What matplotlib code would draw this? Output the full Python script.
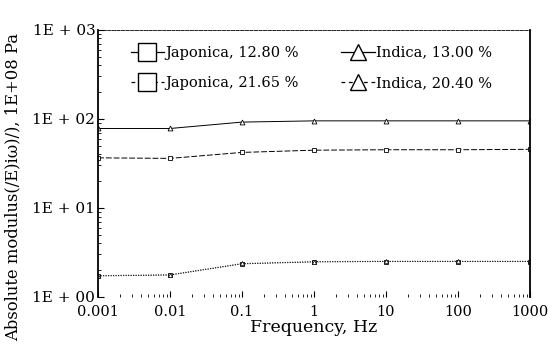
import numpy as np
import matplotlib
matplotlib.use("Agg")
import matplotlib.pyplot as plt
from matplotlib.ticker import FixedLocator, LogLocator, NullFormatter
from matplotlib.lines import Line2D

# data
freq = [0.001, 0.01, 0.1, 1, 10, 100, 1000]
freq_labels = ['0.001', '0.01', '0.1', '1', '10', '100', '1000']
jap_128 = [36.5, 36.0, 42.0, 44.5, 45.0, 45.0, 45.5]
ind_130 = [78.0, 78.0, 92.0, 95.0, 95.0, 95.0, 95.0]
jap_2165 = [1.72, 1.76, 2.35, 2.47, 2.5, 2.5, 2.5]
ind_2040 = [1.74, 1.78, 2.38, 2.5, 2.52, 2.52, 2.52]
ytick_vals = [1, 10, 100, 1000]
ytick_labels = ['1E + 00', '1E + 01', '1E + 02', '1E + 03']

plt.rcParams['font.family'] = ['DejaVu Serif']

fig = plt.figure(figsize=(5.48, 3.51), dpi=100)
ax = fig.add_axes([0.179, 0.154, 0.788, 0.761])

ax.plot(freq, jap_128, color='black', lw=0.7, ls=(0, (6, 2)), marker='s',
        ms=3.5, mfc='white', mec='black', mew=0.6)
ax.plot(freq, ind_130, color='black', lw=0.7, ls='-', marker='^',
        ms=3.5, mfc='white', mec='black', mew=0.6)
ax.plot(freq, jap_2165, color='black', lw=0.6, ls=(0, (1.5, 1.5)), marker='s',
        ms=3.5, mfc='white', mec='black', mew=0.6)
ax.plot(freq, ind_2040, color='black', lw=0.6, ls=(0, (1, 2)), marker='^',
        ms=3.0, mfc='white', mec='black', mew=0.5)

ax.set_xscale('log')
ax.set_yscale('log')
ax.set_xlim(0.001, 1000)
ax.set_ylim(1, 1000)
ax.xaxis.set_major_locator(FixedLocator(freq))
ax.set_xticklabels(freq_labels, fontsize=10.5)
ax.xaxis.set_minor_locator(LogLocator(base=10, subs=np.arange(2, 10), numticks=20))
ax.xaxis.set_minor_formatter(NullFormatter())
ax.yaxis.set_major_locator(FixedLocator(ytick_vals))
ax.set_yticklabels(ytick_labels, fontsize=11)
ax.yaxis.set_minor_locator(LogLocator(base=10, subs=np.arange(2, 10), numticks=20))
ax.yaxis.set_minor_formatter(NullFormatter())
ax.tick_params(which='both', direction='in', top=False, right=False)
ax.tick_params(which='major', length=4, width=0.8)
ax.tick_params(axis='x', which='major', pad=6)
ax.tick_params(axis='y', which='major', pad=2)
ax.tick_params(which='minor', length=2.5, width=0.6)

ax.spines['left'].set_linewidth(1.3)
ax.spines['right'].set_linewidth(1.3)
ax.spines['top'].set_linestyle((0, (4, 1.5)))
ax.spines['top'].set_linewidth(0.6)
ax.spines['bottom'].set_visible(False)

ax.set_xlabel('Frequency, Hz', fontsize=12.5, labelpad=0)
ax.set_ylabel('Absolute modulus(/E)iω)/), 1E+08 Pa', fontsize=11.8)
ax.yaxis.set_label_coords(-0.178, 0.41)

# legend with large hollow markers
h1 = Line2D([], [], color='black', lw=0.9, ls='-', marker='s', ms=13, mfc='white', mec='black')
h2 = Line2D([], [], color='black', lw=0.9, ls='-', marker='^', ms=11, mfc='white', mec='black')
h3 = Line2D([], [], color='black', lw=0.9, ls=(0, (3, 3)), marker='s', ms=13, mfc='white', mec='black')
h4 = Line2D([], [], color='black', lw=0.9, ls=(0, (3, 3)), marker='^', ms=11, mfc='white', mec='black')
ax.legend([h1, h3, h2, h4],
          ['Japonica, 12.80 %', 'Japonica, 21.65 %', 'Indica, 13.00 %', 'Indica, 20.40 %'],
          ncol=2, loc='upper left', bbox_to_anchor=(0.045, 0.99), frameon=False,
          fontsize=10.5, handlelength=2.3, handletextpad=0.1, columnspacing=2.9,
          labelspacing=1.15)

fig.savefig('out.png', dpi=100)
